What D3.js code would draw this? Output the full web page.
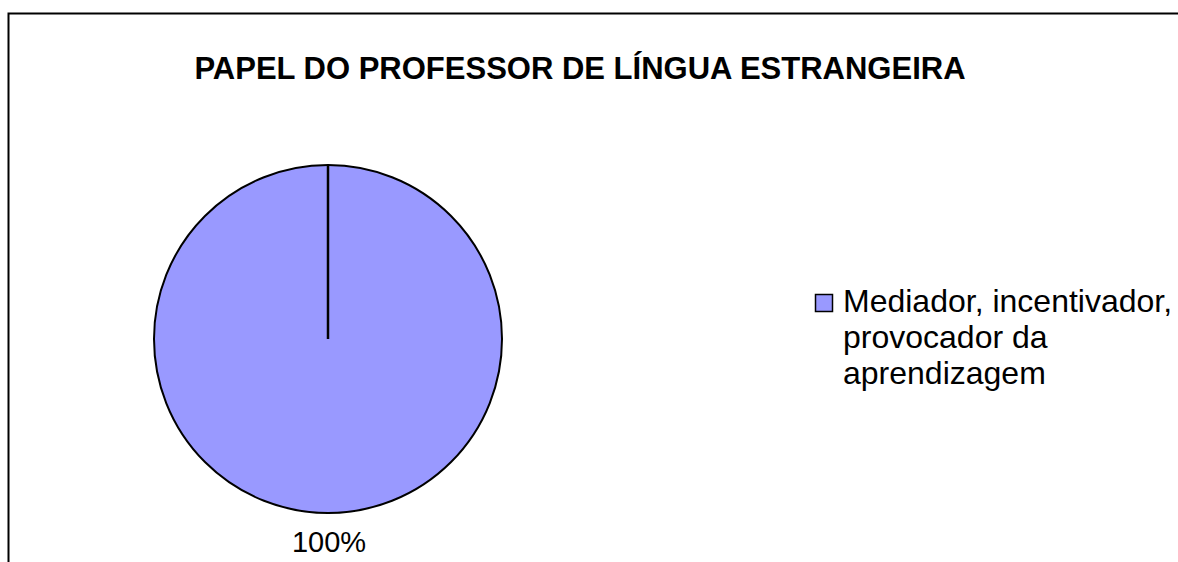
<!DOCTYPE html>
<html><head><meta charset="utf-8">
<script src="https://cdn.jsdelivr.net/npm/d3@7"></script>
<style>html,body{margin:0;padding:0;background:#fff;}svg{display:block;}</style>
</head><body>
<svg id="c" width="1178" height="562"></svg>
<script>
const title = "PAPEL DO PROFESSOR DE LÍNGUA ESTRANGEIRA";
const categories = ["Mediador, incentivador, provocador da aprendizagem"];
const legendLines = [["Mediador, incentivador,", "provocador da", "aprendizagem"]];
const values = [100];
const labels = ["100%"];
const colors = ["#9999FF"];

const svg = d3.select("#c");
const font = "'Liberation Sans', Arial, sans-serif";

// frame
svg.append("path").attr("d", "M8.5,562 L8.5,13.5 L1178,13.5")
  .attr("fill","none").attr("stroke","#000").attr("stroke-width",2);

svg.append("text").attr("x", 580).attr("y", 79).attr("text-anchor","middle")
  .attr("font-family", font).attr("font-weight","bold").attr("font-size", 31)
  .text(title);

const cx = 328, cy = 339, r = 174;
const pie = d3.pie().sort(null).startAngle(0).endAngle(2*Math.PI)(values);
const arc = d3.arc().innerRadius(0).outerRadius(r);
const g = svg.append("g").attr("transform", `translate(${cx},${cy})`);
g.selectAll("path.s").data(pie).join("path").attr("class","s")
  .attr("d", arc).attr("fill", (d,i)=>colors[i]).attr("stroke","#000").attr("stroke-width",2);
// radial edges
pie.forEach(d => {
  const a = d.startAngle;
  g.append("line").attr("x1",0).attr("y1",0)
    .attr("x2", r*Math.sin(a)).attr("y2", -r*Math.cos(a))
    .attr("stroke","#000").attr("stroke-width",2.5);
});
// labels
pie.forEach((d,i) => {
  const mid = (d.startAngle + d.endAngle)/2;
  g.append("text").attr("x", (r+30)*Math.sin(mid)+1).attr("y", -(r+30)*Math.cos(mid)+9)
    .attr("text-anchor","middle").attr("font-family", font).attr("font-size", 29)
    .text(labels[i]);
});

// legend
const lg = svg.append("g").attr("transform","translate(815,294)");
categories.forEach((c,i) => {
  lg.append("rect").attr("x",0.5).attr("y",0.5).attr("width",17).attr("height",17)
    .attr("fill", colors[i]).attr("stroke","#000").attr("stroke-width",1.5);
  const t = lg.append("text").attr("font-family", font).attr("font-size", 32);
  legendLines[i].forEach((ln,j) => {
    t.append("tspan").attr("x", 28).attr("y", 18 + j*36).text(ln);
  });
});
</script>
</body></html>
